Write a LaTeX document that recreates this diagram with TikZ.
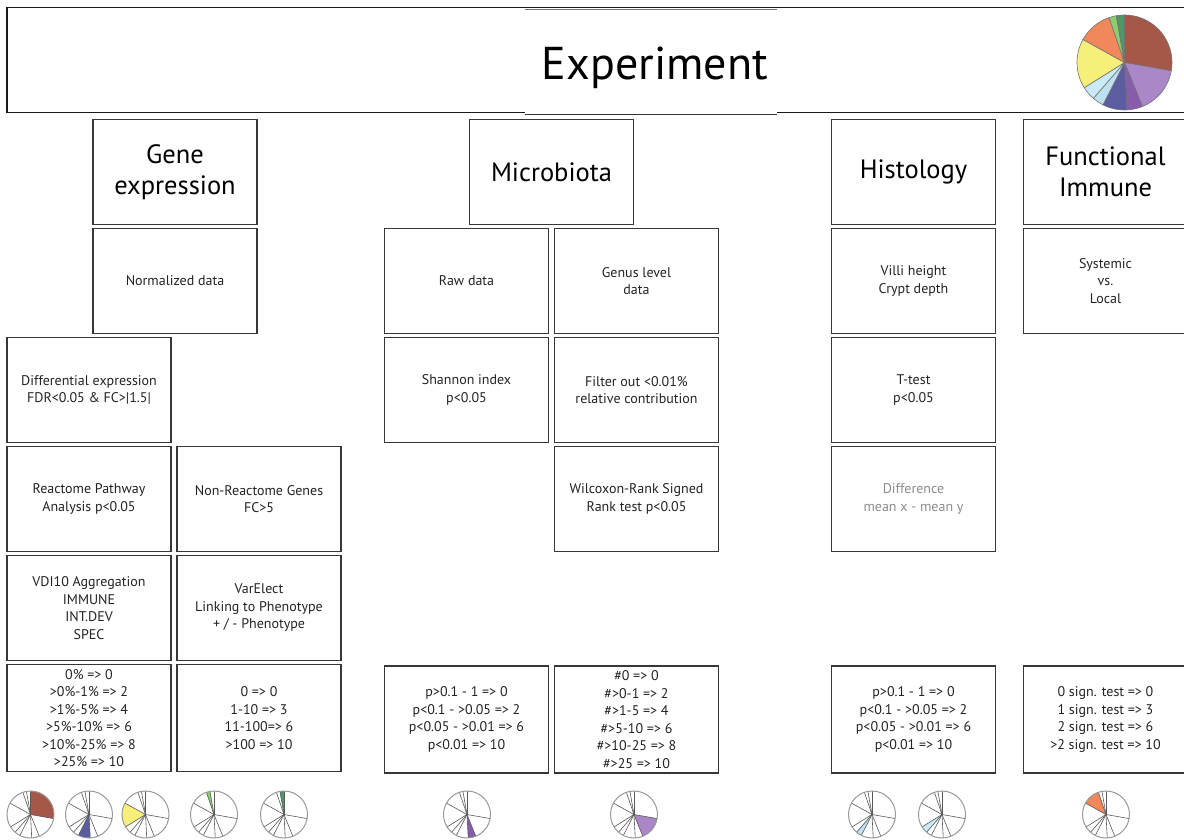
\documentclass[tikz,border=0pt]{standalone}
\usepackage{fontspec}
\setmainfont{PT Sans}
\usetikzlibrary{positioning}

\definecolor{boxline}{RGB}{55,55,55}
\definecolor{boxtext}{RGB}{35,35,35}
\definecolor{pbrown}{RGB}{165,88,74}
\definecolor{plilac}{RGB}{170,135,198}
\definecolor{ppurple}{RGB}{135,92,172}
\definecolor{pslate}{RGB}{92,92,160}
\definecolor{psky}{RGB}{190,225,242}
\definecolor{pice}{RGB}{202,234,248}
\definecolor{pyellow}{RGB}{246,240,122}
\definecolor{porange}{RGB}{240,136,92}
\definecolor{plime}{RGB}{140,205,110}
\definecolor{pgreen}{RGB}{80,150,105}

% slice borders (clockwise from the top) and colours
\def\slicelist{-90/10/pbrown, 10/68/plilac, 68/87/ppurple, 87/117/pslate, 117/131/psky, 131/148/pice, 148/209/pyellow, 209/251/porange, 251/260/plime, 260/270/pgreen}

% small pie: x, y, number of the coloured slice
\newcommand{\minipie}[3]{%
  \begin{scope}[shift={(#1,#2)}]
    \fill[white] (0,0) circle[radius=23.5];
    \foreach \a/\b/\c [count=\i] in \slicelist {
      \ifnum\i=#3
        \fill[\c] (0,0) -- (\a:23.5) arc[start angle=\a, end angle=\b, radius=23.5] -- cycle;
      \fi
    }
    \foreach \a/\b/\c in \slicelist
      \draw[black!65, line width=0.6pt] (0,0) -- (\a:23.5);
    \draw[black!40, line width=1pt] (0,0) circle[radius=23.5];
  \end{scope}}

\begin{document}
\begin{tikzpicture}[x=1pt, y=-1pt,
  every node/.style={anchor=center, align=center, outer sep=0pt},
  stepbox/.style={draw=boxline, line width=1.4pt, minimum width=164pt, minimum height=105pt,
    text=boxtext, font=\fontsize{14}{17.5}\selectfont},
  titlebox/.style={stepbox, text=black, font=\fontsize{26.5}{31}\selectfont},
  scorebox/.style={stepbox, minimum height=107pt},
  greytext/.style={text=black!45}]
  \useasboundingbox (0,0) rectangle (1184,840);

  % header
  \node[draw=black!90, line width=1.4pt, minimum width=1183pt, minimum height=105pt] (header) at (598.5,60) {};
  \fill[white] (525,9.5) rectangle (777,114.5);
  \draw[black!55, line width=1pt] (525,9.5) -- (777,9.5);
  \draw[black!80, line width=1.2pt] (525,114.5) -- (777,114.5);
  \node[anchor=base, font=\fontsize{46}{50}\selectfont] (exp) at (655,80) {Experiment};

  % big pie
  \begin{scope}[shift={(1124.5,62.5)}]
    \foreach \a/\b/\c in \slicelist
      \filldraw[fill=\c, draw=black!55, line width=0.6pt] (0,0) -- (\a:47.5) arc[start angle=\a, end angle=\b, radius=47.5] -- cycle;
  \end{scope}

  % gene expression
  \node[titlebox] (gene) at (175,172) {Gene\\expression};
  \node[stepbox, below=4pt of gene] (norm) {Normalized data};
  \node[stepbox] (diff) at (89,390) {Differential expression\\FDR<0.05 \& FC>|1.5|};
  \node[stepbox, below=4pt of diff] (react) {Reactome Pathway\\Analysis p<0.05};
  \node[stepbox, right=6pt of react] (nonreact) {Non-Reactome Genes\\FC>5};
  \node[stepbox, below=4pt of react] (vdi) {VDI10 Aggregation\\IMMUNE\\INT.DEV\\SPEC};
  \node[stepbox, below=4pt of nonreact] (varelect) {VarElect\\Linking to Phenotype\\+ / - Phenotype};
  \node[scorebox, below=4pt of vdi] (vdiscore) {0\% => 0\\>0\%-1\% => 2\\>1\%-5\% => 4\\>5\%-10\% => 6\\>10\%-25\% => 8\\>25\% => 10};
  \node[scorebox, below=4pt of varelect] (varscore) {0 => 0\\1-10 => 3\\11-100=> 6\\>100 => 10};

  % microbiota
  \node[titlebox] (micro) at (551.5,172) {Microbiota};
  \node[stepbox] (raw) at (466.5,281) {Raw data};
  \node[stepbox, right=6pt of raw] (genus) {Genus level\\data};
  \node[stepbox, below=4pt of raw] (shannon) {Shannon index\\p<0.05};
  \node[stepbox, below=4pt of genus] (filter) {Filter out <0.01\%\\relative contribution};
  \node[stepbox, below=4pt of filter] (wilcox) {Wilcoxon-Rank Signed\\Rank test p<0.05};
  \node[scorebox] (rawscore) at (466.5,719.5) {p>0.1 - 1 => 0\\p<0.1 - >0.05 => 2\\p<0.05 - >0.01 => 6\\p<0.01 => 10};
  \node[scorebox, right=6pt of rawscore] (genusscore) {\#0 => 0\\\#>0-1 => 2\\\#>1-5 => 4\\\#>5-10 => 6\\\#>10-25 => 8\\\#>25 => 10};

  % histology
  \node[titlebox] (histo) at (913.5,172) {Histology};
  \node[stepbox, below=4pt of histo] (villi) {Villi height\\Crypt depth};
  \node[stepbox, below=4pt of villi] (ttest) {T-test\\p<0.05};
  \node[stepbox, greytext, below=4pt of ttest] (meandiff) {Difference\\mean x - mean y};
  \node[scorebox] (histscore) at (913.5,719.5) {p>0.1 - 1 => 0\\p<0.1 - >0.05 => 2\\p<0.05 - >0.01 => 6\\p<0.01 => 10};

  % functional immune
  \node[titlebox] (func) at (1105.5,172) {Functional\\Immune};
  \node[stepbox, below=4pt of func] (sysloc) {Systemic\\vs.\\Local};
  \node[scorebox] (funcscore) at (1105.5,719.5) {0 sign. test => 0\\1 sign. test => 3\\2 sign. test => 6\\>2 sign. test => 10};

  % small pies
  \minipie{30.5}{814.5}{1}
  \minipie{89}{814.5}{4}
  \minipie{145.5}{814.5}{7}
  \minipie{214}{814.5}{9}
  \minipie{284}{814.5}{10}
  \minipie{467}{814.5}{3}
  \minipie{634}{814.5}{2}
  \minipie{872}{814.5}{5}
  \minipie{942}{814.5}{6}
  \minipie{1106}{814.5}{8}
\end{tikzpicture}
\end{document}
